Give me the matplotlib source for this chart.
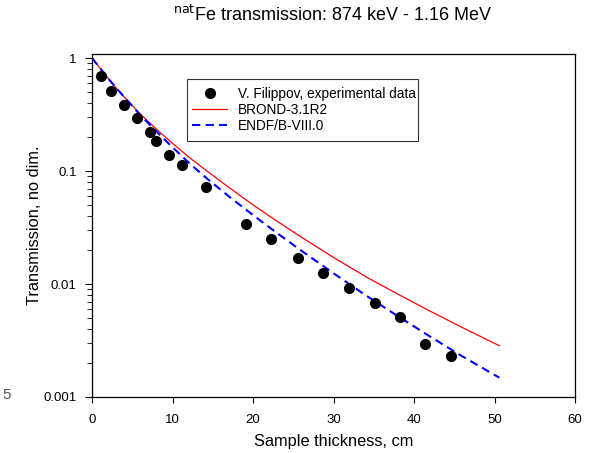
import numpy as np
import matplotlib
matplotlib.use("Agg")
import matplotlib.pyplot as plt
from matplotlib.patches import Rectangle
from matplotlib.ticker import LogLocator, FixedLocator, NullFormatter

plt.rcParams['font.family'] = ['Liberation Sans', 'DejaVu Sans']

# Experimental data (V. Filippov)
exp_x = [1.16, 2.40, 3.97, 5.58, 7.19, 7.98, 9.59, 11.18, 14.21, 19.08,
         22.27, 25.61, 28.71, 31.90, 35.12, 38.25, 41.39, 44.61]
exp_y = [0.697, 0.511, 0.381, 0.292, 0.221, 0.185, 0.138, 0.112, 0.0724, 0.0337,
         0.0249, 0.0171, 0.01245, 0.00917, 0.00684, 0.00507, 0.00292, 0.00231]

# Calculated curves, read as log10(transmission)
calc_x = [0, 1, 2, 3, 4, 6, 8, 10, 12, 14, 17, 20, 23, 26, 30, 34, 38, 42, 46, 50.6]
brond_log = [0, -0.09, -0.18, -0.265, -0.345, -0.495, -0.63, -0.755, -0.875, -0.985,
             -1.145, -1.30, -1.445, -1.585, -1.765, -1.935, -2.09, -2.24, -2.385, -2.546]
endf_log = [0, -0.09, -0.18, -0.265, -0.345, -0.505, -0.65, -0.79, -0.925, -1.05,
            -1.225, -1.39, -1.55, -1.705, -1.905, -2.10, -2.285, -2.465, -2.64, -2.829]

fig = plt.figure(figsize=(5.99, 4.53), dpi=100)
ax = fig.add_axes([92 / 599, 1 - 397 / 453, (575 - 92) / 599, (397 - 54) / 453])

ax.plot(exp_x, exp_y, 'o', color='black', markersize=7, linestyle='none',
        label='V. Filippov, experimental data', zorder=3)
ax.plot(calc_x, 10 ** np.array(brond_log), color='#ff0000', linewidth=0.9,
        label='BROND-3.1R2')
ax.plot(calc_x, 10 ** np.array(endf_log), color='#0000ff', linewidth=1.5,
        dashes=(4, 2.5), label='ENDF/B-VIII.0')

ax.set_yscale('log')
ax.set_xlim(0, 60)
ax.set_ylim(0.001, 1.085)
ax.xaxis.set_major_locator(FixedLocator([0, 10, 20, 30, 40, 50, 60]))
ax.set_yticks([0.001, 0.01, 0.1, 1])
ax.set_yticklabels(['0.001', '0.01', '0.1', '1'])
ax.yaxis.set_minor_locator(LogLocator(base=10, subs=np.arange(2, 10)))
ax.yaxis.set_minor_formatter(NullFormatter())

ax.tick_params(axis='y', which='major', direction='out', length=5, width=0.8,
               labelsize=9.5, right=False, pad=6)
ax.tick_params(axis='x', which='major', direction='out', length=4, width=0.8,
               labelsize=9.5, top=False, pad=8)
ax.tick_params(which='minor', direction='out', length=3.5, width=0.6,
               top=False, right=False)
for s in ax.spines.values():
    s.set_linewidth(0.9)

ax.set_xlabel('Sample thickness, cm', fontsize=11.8, labelpad=6)
ax.set_ylabel('Transmission, no dim.', fontsize=11.8, labelpad=1)
fig.text(333 / 599, 1 - 15 / 453, r'$^{\mathrm{nat}}$Fe transmission: 874 keV - 1.16 MeV',
         ha='center', va='center', fontsize=13)

# legend box drawn separately so its padding matches the original
ax.add_patch(Rectangle((0.1967, 0.7464), 0.4783, 0.1806, transform=ax.transAxes,
                       facecolor='white', edgecolor='#333333', linewidth=0.8, zorder=4))
leg = ax.legend(loc='upper left', bbox_to_anchor=(0.207, 0.904),
                fontsize=9.8, frameon=False, borderaxespad=0,
                handlelength=2.6, handletextpad=0.75, labelspacing=0.15,
                borderpad=0)
leg.set_zorder(5)

fig.text(2 / 599, 1 - 395 / 453, '5', color='#555555', fontsize=11,
         ha='left', va='center')

fig.savefig('out.png', dpi=100)
